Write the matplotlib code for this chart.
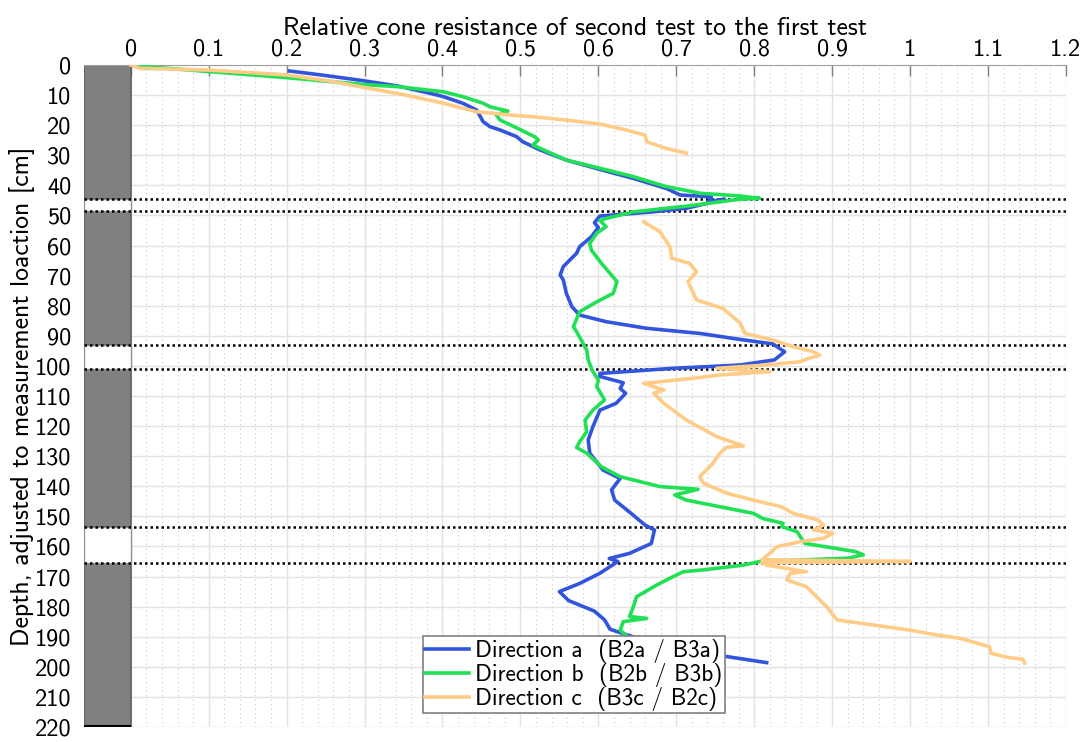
import matplotlib
matplotlib.use("Agg")
import matplotlib.pyplot as plt
from matplotlib.ticker import MultipleLocator
from matplotlib.patches import Rectangle

plt.rcParams['font.family'] = ['cmss10', 'DejaVu Sans']
plt.rcParams['axes.unicode_minus'] = False

# ---------------- data ----------------
depth_a = [2.0, 3.5, 5.2, 7.0, 9.4, 10.5, 12.7, 15.0, 18.8, 20.5, 21.6, 23.8, 25.5, 28.2,
           31.6, 34.7, 37.7, 41.0, 43.2, 43.8, 45.4, 44.6, 47.6, 48.8, 50.2, 52.4, 54.0,
           57.1, 60.4, 62.6, 67.0, 69.8, 71.4, 75.9, 80.3, 83.1, 85.3, 87.5, 89.2, 91.2,
           92.7, 95.3, 98.0, 99.7, 100.8, 102.5, 103.5, 105.6, 107.5, 109.1, 112.4, 114.7,
           120.2, 124.6, 129.0, 134.6, 137.4, 141.2, 144.6, 149.0, 152.9, 154.5, 159.0,
           162.3, 164.0, 165.0, 168.9, 172.3, 175.0, 178.0, 181.5, 184.4, 187.5, 190.5,
           193.5, 196.6, 198.6]
value_a = [0.204, 0.25, 0.298, 0.343, 0.384, 0.401, 0.426, 0.444, 0.452, 0.461, 0.474, 0.495,
           0.503, 0.525, 0.559, 0.602, 0.645, 0.687, 0.705, 0.745, 0.741, 0.762, 0.713, 0.670,
           0.602, 0.595, 0.600, 0.591, 0.576, 0.572, 0.555, 0.551, 0.555, 0.559, 0.566, 0.576,
           0.610, 0.662, 0.730, 0.782, 0.824, 0.839, 0.826, 0.782, 0.696, 0.602, 0.602, 0.632,
           0.628, 0.635, 0.623, 0.602, 0.593, 0.587, 0.589, 0.606, 0.628, 0.617, 0.621, 0.642,
           0.660, 0.672, 0.668, 0.640, 0.614, 0.625, 0.602, 0.576, 0.550, 0.562, 0.595, 0.608,
           0.615, 0.650, 0.700, 0.765, 0.816]

depth_b = [0.2, 2.2, 4.2, 6.5, 7.2, 8.9, 10.5, 12.7, 13.9, 15.3, 16.6, 18.3, 21.0, 23.8,
           24.9, 26.6, 31.6, 34.3, 37.1, 40.4, 41.5, 42.6, 43.5, 44.3, 44.6, 46.9, 48.8,
           51.0, 51.7, 53.7, 55.9, 59.3, 61.5, 65.9, 72.0, 75.9, 78.7, 82.0, 87.0, 88.6,
           94.7, 98.0, 101.4, 104.7, 106.9, 111.3, 114.7, 118.0, 121.9, 125.2, 127.1, 129.0,
           133.5, 136.8, 140.1, 141.0, 142.9, 144.6, 146.8, 149.0, 150.7, 152.3, 153.4,
           155.1, 159.0, 161.7, 162.8, 163.9, 165.0, 166.2, 167.8, 168.4, 170.0, 172.8,
           176.7, 180.0, 183.3, 183.9, 185.0, 187.8, 190.5, 193.0]
value_b = [0.003, 0.101, 0.2, 0.30, 0.343, 0.401, 0.426, 0.452, 0.461, 0.484, 0.469, 0.474,
           0.496, 0.518, 0.523, 0.516, 0.559, 0.602, 0.645, 0.687, 0.709, 0.730, 0.780, 0.807,
           0.782, 0.713, 0.645, 0.610, 0.602, 0.610, 0.598, 0.589, 0.591, 0.604, 0.624, 0.619,
           0.598, 0.576, 0.568, 0.572, 0.585, 0.587, 0.592, 0.600, 0.598, 0.608, 0.593, 0.583,
           0.585, 0.576, 0.572, 0.585, 0.604, 0.628, 0.679, 0.728, 0.698, 0.713, 0.756, 0.799,
           0.811, 0.837, 0.835, 0.855, 0.865, 0.930, 0.940, 0.920, 0.807, 0.786, 0.734, 0.709,
           0.696, 0.675, 0.649, 0.645, 0.640, 0.662, 0.632, 0.628, 0.640, 0.645]

depth_c1 = [0.0, 1.1, 1.7, 3.3, 5.5, 7.5, 9.6, 12.7, 15.5, 16.6, 17.2, 18.3, 19.6, 21.6,
            23.3, 25.5, 27.7, 29.3]
value_c1 = [0.0, 0.012, 0.101, 0.2, 0.26, 0.30, 0.345, 0.401, 0.443, 0.486, 0.516, 0.559,
            0.602, 0.636, 0.660, 0.662, 0.687, 0.713]

depth_c2 = [52.1, 55.4, 60.4, 64.2, 65.9, 68.7, 72.0, 75.9, 78.1, 80.9, 85.8, 89.2, 91.4,
            93.6, 95.3, 96.4, 97.5, 98.6, 99.7, 100.8, 101.9, 103.0, 104.1, 105.8, 108.0,
            109.1, 112.4, 118.0, 123.5, 126.6, 127.0, 129.0, 132.4, 136.8, 139.0, 142.3,
            144.6, 146.8, 149.0, 151.2, 152.9, 154.5, 155.6, 157.3, 158.4, 160.1, 162.3,
            164.4, 165.0, 165.4, 166.2, 168.4, 168.9, 171.1, 173.4, 176.7, 180.0, 184.4,
            185.5, 187.8, 189.4, 190.5, 193.3, 195.5, 196.8, 197.5, 198.8]
value_c2 = [0.658, 0.679, 0.692, 0.694, 0.717, 0.726, 0.715, 0.722, 0.726, 0.760, 0.782,
            0.788, 0.824, 0.850, 0.876, 0.884, 0.870, 0.859, 0.816, 0.752, 0.820, 0.756,
            0.722, 0.658, 0.684, 0.671, 0.684, 0.713, 0.752, 0.786, 0.765, 0.756, 0.747,
            0.730, 0.735, 0.765, 0.799, 0.835, 0.850, 0.882, 0.889, 0.876, 0.901, 0.889,
            0.859, 0.829, 0.820, 0.810, 1.0, 0.810, 0.816, 0.867, 0.846, 0.842, 0.867,
            0.880, 0.893, 0.906, 0.936, 1.0, 1.034, 1.064, 1.102, 1.104, 1.124, 1.145, 1.147]

labels = ["Direction a  (B2a / B3a)", "Direction b  (B2b / B3b)", "Direction c  (B3c / B2c)"]
colors = ["#3355dd", "#22e055", "#ffcc88"]

gaps = [(44.5, 48.5), (93.0, 101.0), (153.5, 165.5)]
x_ticks = [0, 0.1, 0.2, 0.3, 0.4, 0.5, 0.6, 0.7, 0.8, 0.9, 1.0, 1.1, 1.2]
x_tick_labels = ["0", "0.1", "0.2", "0.3", "0.4", "0.5", "0.6", "0.7", "0.8", "0.9", "1", "1.1", "1.2"]
y_ticks = list(range(0, 230, 10))

# ---------------- figure ----------------
fig = plt.figure(figsize=(10.91, 7.42), dpi=100)
ax = fig.add_axes([0.077, 0.0202, 0.900, 0.8922])

xmin, xmax = -0.06, 1.2
ymax = 220

# gray column with white gaps
edges = [0.0]
for g0, g1 in gaps:
    edges += [g0, g1]
edges.append(ymax)
for i in range(0, len(edges), 2):
    y0, y1 = edges[i], edges[i + 1]
    ax.add_patch(Rectangle((xmin, y0), -xmin, y1 - y0, facecolor="#808080",
                           edgecolor="#606060", lw=1.2, zorder=2))
for g0, g1 in gaps:
    ax.add_patch(Rectangle((xmin, g0), -xmin, g1 - g0, facecolor="white",
                           edgecolor="#909090", lw=1.0, zorder=2))
ax.plot([xmin, 0], [ymax, ymax], color="black", lw=3, zorder=3, solid_capstyle="butt")

# dotted boundaries
for g0, g1 in gaps:
    for yy in (g0, g1):
        ax.axhline(yy, color="black", lw=1.8, ls=(0, (1, 1.2)), zorder=4)

lw = 2.6
la, = ax.plot(value_a, depth_a, color=colors[0], lw=lw, zorder=5, label=labels[0])
lb, = ax.plot(value_b, depth_b, color=colors[1], lw=lw, zorder=6, label=labels[1])
lc, = ax.plot(value_c1, depth_c1, color=colors[2], lw=lw, zorder=7, label=labels[2])
ax.plot(value_c2, depth_c2, color=colors[2], lw=lw, zorder=7)

ax.set_xlim(xmin, xmax)
ax.set_ylim(ymax, 0)
ax.xaxis.tick_top()
ax.xaxis.set_label_position("top")
ax.set_xticks(x_ticks)
ax.set_xticklabels(x_tick_labels)
ax.set_yticks(y_ticks)
ax.xaxis.set_minor_locator(MultipleLocator(0.02))
ax.tick_params(axis="x", which="major", direction="in", length=8, width=1,
               color="#808080", labelsize=17.5, pad=3)
ax.tick_params(axis="x", which="minor", length=0)
ax.tick_params(axis="y", which="major", direction="in", length=0, labelsize=17.5, pad=9)

ax.grid(which="major", color="#e3e3e3", lw=1.0, zorder=0)
ax.grid(which="minor", axis="x", color="#c8c8c8", lw=0.8, ls=(0, (1, 3)), zorder=0)
ax.set_axisbelow(True)

for s in ["bottom", "right"]:
    ax.spines[s].set_visible(False)
ax.spines["top"].set_color("#a0a0a0")
ax.spines["left"].set_visible(False)

ax.set_xlabel("Relative cone resistance of second test to the first test", fontsize=18.5, labelpad=3)
ax.set_ylabel("Depth, adjusted to measurement loaction [cm]", fontsize=18.5, labelpad=0)

leg = ax.legend(handles=[la, lb, lc], loc="lower left", bbox_to_anchor=(0.345, 0.021),
                fontsize=16.8, frameon=True, fancybox=False, framealpha=1,
                edgecolor="#808080", handlelength=1.9, handletextpad=0.25,
                labelspacing=0.0, borderpad=0.1, borderaxespad=0)
leg.get_frame().set_linewidth(1.2)
leg.set_zorder(10)

fig.savefig("out.png", dpi=100)
